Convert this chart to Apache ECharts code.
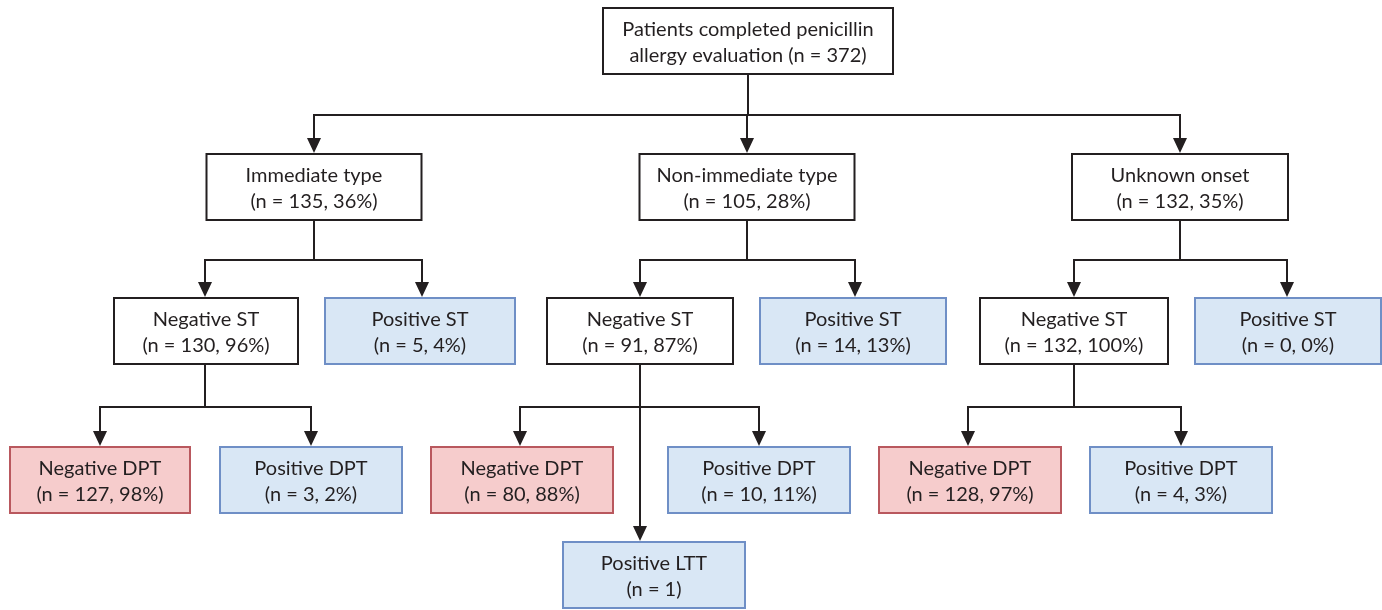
<!DOCTYPE html>
<html>
<head>
<meta charset="utf-8">
<script src="https://cdn.jsdelivr.net/npm/echarts@6/dist/echarts.min.js"></script>
<style>
  html, body { margin: 0; padding: 0; background: #fff; }
  #chart { width: 1382px; height: 610px; }
</style>
</head>
<body>
<div id="chart"></div>
<script>
// flowchart content
var nodeTitles = [
    'Patients completed penicillin', 'Immediate type', 'Non-immediate type', 'Unknown onset',
    'Negative ST', 'Positive ST', 'Negative ST', 'Positive ST', 'Negative ST', 'Positive ST',
    'Negative DPT', 'Positive DPT', 'Negative DPT', 'Positive DPT', 'Positive LTT',
    'Negative DPT', 'Positive DPT'
];
var nodeCounts = [
    'allergy evaluation (n = 372)', '(n = 135, 36%)', '(n = 105, 28%)', '(n = 132, 35%)',
    '(n = 130, 96%)', '(n = 5, 4%)', '(n = 91, 87%)', '(n = 14, 13%)', '(n = 132, 100%)', '(n = 0, 0%)',
    '(n = 127, 98%)', '(n = 3, 2%)', '(n = 80, 88%)', '(n = 10, 11%)', '(n = 1)',
    '(n = 128, 97%)', '(n = 4, 3%)'
];
var nodeKinds = [
    'plain', 'plain', 'plain', 'plain',
    'plain', 'pos', 'plain', 'pos', 'plain', 'pos',
    'neg', 'pos', 'neg', 'pos', 'pos',
    'neg', 'pos'
];
var nodeParents = [-1, 0, 0, 0, 1, 1, 2, 2, 3, 3, 4, 4, 6, 6, 6, 8, 8];

// layout (pixel units of the hidden axes)
var nodeCenterX = [748, 314, 747, 1180, 206, 420, 640, 853, 1074, 1288, 100, 311, 522, 759, 654, 970, 1181];
var arrowX = [748, 314, 747, 1180, 205, 422, 640, 855, 1074, 1287, 100, 311, 520, 759, 640, 968, 1181];
var nodeRow = [0, 1, 1, 1, 2, 2, 2, 2, 2, 2, 3, 3, 3, 3, 4, 3, 3];
var nodeWidth = [290, 215, 215, 216, 184, 190, 186, 186, 188, 186, 180, 182, 182, 182, 182, 182, 182];
var rowTop = [8, 154, 298, 447, 542];
var busY = [115, 260, 407];
var boxH = 66;

var kindStyle = {
    plain: { fill: '#ffffff', stroke: '#231f20' },
    pos: { fill: '#d9e7f5', stroke: '#6f8fc6' },
    neg: { fill: '#f6cccc', stroke: '#b9585e' }
};

var nodeData = nodeTitles.map(function (t, i) {
    return [nodeCenterX[i], rowTop[nodeRow[i]], nodeWidth[i], i];
});
var edgeData = [];
nodeParents.forEach(function (p, i) {
    if (p >= 0) edgeData.push([p, i]);
});

function renderNode(params, api) {
    var i = api.value(3);
    var w = api.value(2);
    var tl = api.coord([api.value(0) - w / 2, api.value(1)]);
    var br = api.coord([api.value(0) + w / 2, api.value(1) + boxH]);
    var st = kindStyle[nodeKinds[i]];
    return {
        type: 'group',
        children: [{
            type: 'rect',
            shape: { x: tl[0], y: tl[1], width: br[0] - tl[0], height: br[1] - tl[1] },
            style: { fill: st.fill, stroke: st.stroke, lineWidth: 2 }
        }, {
            type: 'text',
            x: (tl[0] + br[0]) / 2,
            y: (tl[1] + br[1]) / 2 + 2,
            style: {
                text: nodeTitles[i] + '\n' + nodeCounts[i],
                fill: '#231f20',
                font: '20px Lato',
                lineHeight: 26,
                align: 'center',
                verticalAlign: 'middle'
            }
        }]
    };
}

function renderEdge(params, api) {
    var p = api.value(0), c = api.value(1);
    var px = arrowX[p], cx = arrowX[c];
    var bus = busY[nodeRow[p]];
    var top = rowTop[nodeRow[c]];
    var a = api.coord([px, rowTop[nodeRow[p]] + boxH]);
    var b = api.coord([px, bus]);
    var d = api.coord([cx, bus]);
    var e = api.coord([cx, top - 16]);
    var tip = api.coord([cx, top - 1]);
    return {
        type: 'group',
        children: [{
            type: 'polyline',
            shape: { points: [a, b, d, e] },
            style: { stroke: '#231f20', lineWidth: 2, fill: null }
        }, {
            type: 'polygon',
            shape: { points: [[tip[0] - 7, e[1]], [tip[0] + 7, e[1]], [tip[0], tip[1]]] },
            style: { fill: '#231f20' }
        }]
    };
}

var chart = echarts.init(document.getElementById('chart'));
chart.setOption({
    animation: false,
    grid: { left: 0, right: 0, top: 0, bottom: 0 },
    xAxis: { type: 'value', min: 0, max: 1382, show: false },
    yAxis: { type: 'value', min: 0, max: 610, inverse: true, show: false },
    series: [
        { type: 'custom', renderItem: renderEdge, data: edgeData, z: 1 },
        { type: 'custom', renderItem: renderNode, data: nodeData, z: 2 }
    ]
});
</script>
</body>
</html>
